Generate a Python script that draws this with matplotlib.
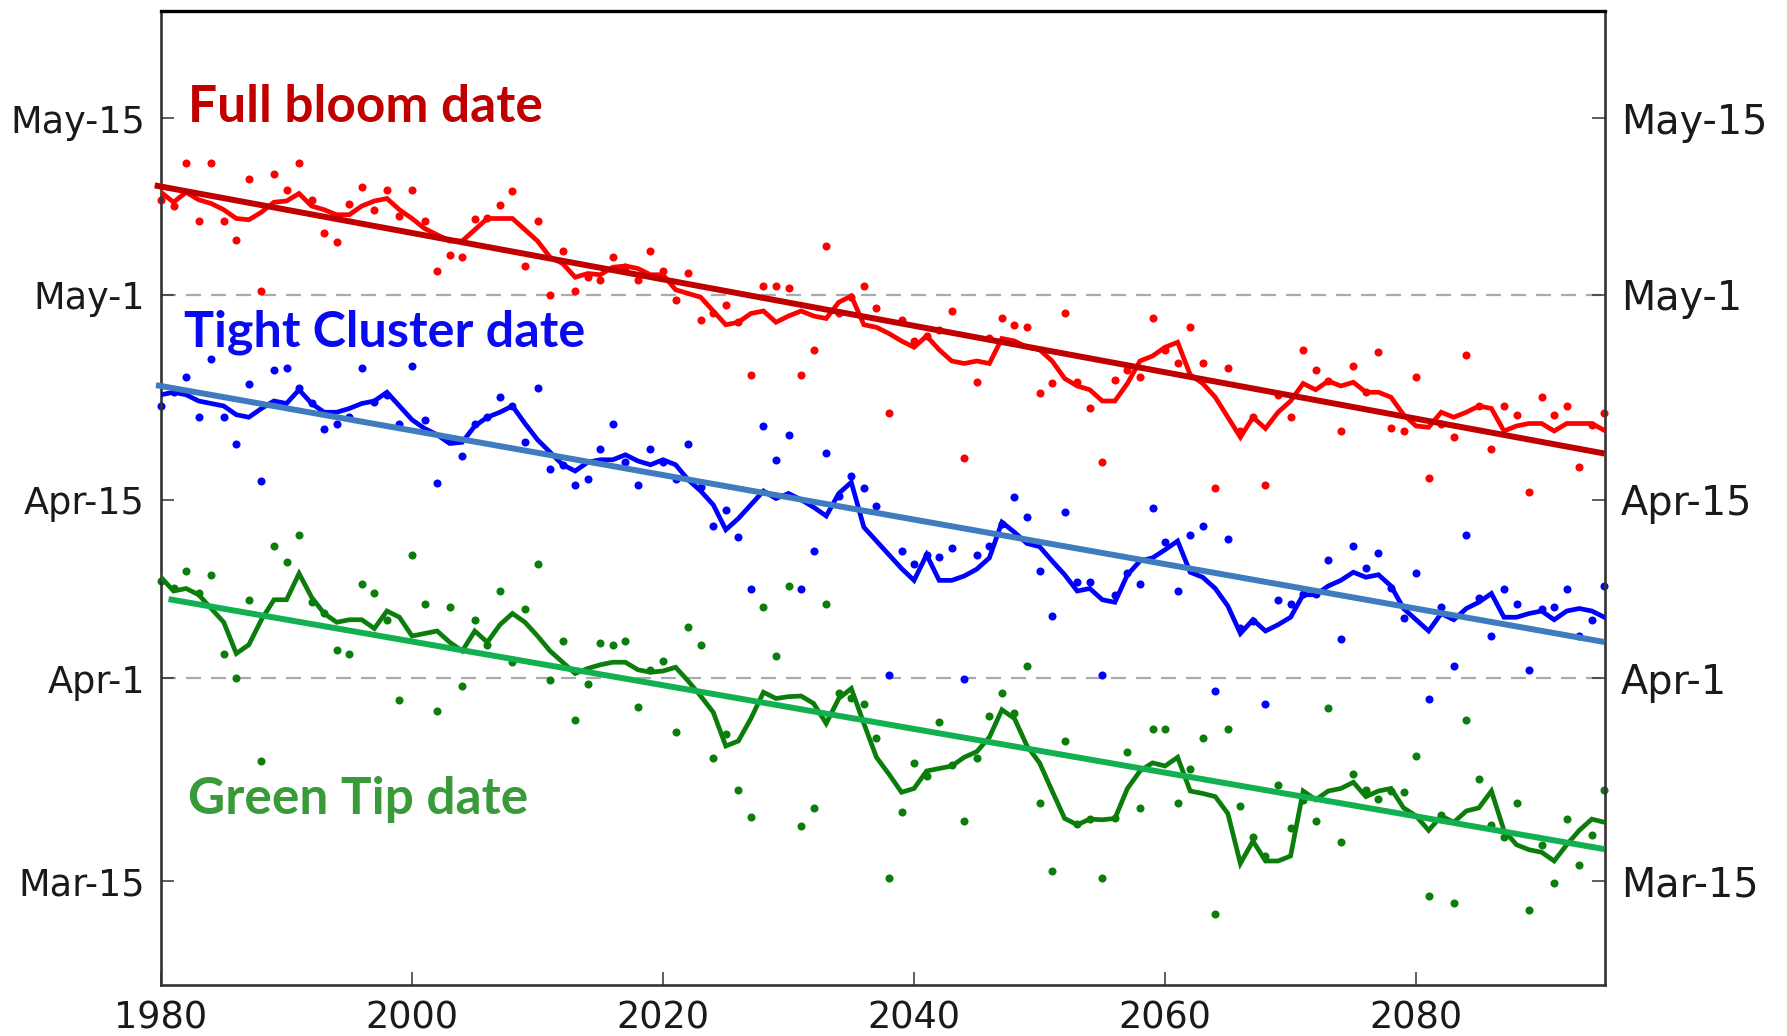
import matplotlib
matplotlib.use("Agg")
import matplotlib.pyplot as plt

# ---------------- data (day-of-year style scale) ----------------
years = list(range(1980, 2096))

full_bloom_dots = [
    128.5, 128.0, 131.45, 126.8, 131.45, 126.8, 125.3, 130.2, 121.2, 130.55,
    129.3, 131.45, 128.5, 125.8, 125.15, 128.2, 129.5, 127.7, 129.3, 127.2,
    129.3, 126.8, 122.8, 124.1, 123.9, 126.95, 127.0, 128.1, 129.2, 123.2,
    126.8, 120.84, 124.4, 121.2, 122.3, 122.1, 123.9, 123.1, 122.1, 124.4,
    122.8, 120.5, 122.6, 118.9, 119.4, 120.1, 118.7, 114.5, 121.6, 121.6,
    121.4, 114.5, 116.5, 124.8, 119.4, 120.7, 121.6, 119.8, 111.4, 118.9,
    117.2, 117.6, 118.05, 119.6, 107.85, 113.96, 117.4, 119.0, 118.5, 118.3,
    113.06, 113.8, 119.4, 113.96, 111.8, 107.5, 114.1, 114.9, 114.3, 119.04,
    116.5, 115.4, 118.3, 115.4, 105.47, 115.04, 110.0, 111.1, 105.65, 112.9,
    111.1, 116.5, 114.9, 114.0, 110.0, 115.2, 113.1, 116.3, 110.2, 110.0,
    114.3, 106.2, 110.6, 109.5, 116.1, 112.0, 108.57, 112.0, 111.3, 105.1,
    112.7, 111.3, 112.0, 107.1, 110.5, 111.45,
]
full_bloom_smooth = [
    129.1, 128.3, 129.1, 128.5, 128.2, 127.7, 127.0, 126.9, 127.5, 128.3,
    128.4, 129.0, 128.0, 127.7, 127.3, 127.3, 128.0, 128.4, 128.6, 127.7,
    127.0, 126.2, 125.7, 125.2, 125.2, 126.1, 127.0, 127.0, 127.0, 126.1,
    125.2, 123.9, 123.4, 122.3, 122.6, 122.5, 123.1, 123.2, 123.0, 122.5,
    122.5, 121.3, 121.0, 120.7, 119.6, 118.5, 118.7, 119.4, 119.6, 118.7,
    119.2, 119.6, 119.2, 119.0, 120.3, 120.8, 118.5, 118.3, 117.8, 117.2,
    116.7, 117.6, 116.5, 115.6, 115.4, 115.6, 115.4, 117.4, 117.2, 116.7,
    116.5, 115.6, 114.2, 113.6, 113.3, 112.4, 112.4, 113.8, 115.6, 116.0,
    116.7, 117.1, 114.5, 113.8, 112.7, 111.1, 109.5, 111.1, 110.2, 111.5,
    112.4, 113.8, 113.3, 114.0, 113.6, 113.9, 113.1, 113.1, 112.7, 111.3,
    110.4, 110.3, 111.5, 111.1, 111.5, 112.0, 111.8, 110.0, 110.4, 110.6,
    110.6, 110.0, 110.6, 110.6, 110.6, 110.05,
]
full_bloom_trend_years = [1979.5, 2095.0]
full_bloom_trend = [129.65, 108.2]

tight_cluster_dots = [
    112.0, 113.1, 114.32, 111.09, 115.76, 111.09, 108.93, 113.78, 106.01, 114.86,
    115.04, 113.42, 112.2, 110.19, 110.55, 111.09, 115.04, 112.35, 112.88, 110.55,
    115.22, 110.86, 105.83, 109.29, 108.03, 110.55, 111.09, 112.70, 111.99, 109.11,
    113.42, 106.95, 107.27, 105.65, 106.19, 108.57, 110.55, 107.49, 105.65, 108.57,
    107.5, 106.19, 108.93, 105.5, 102.41, 103.67, 101.51, 97.38, 110.37, 107.67,
    109.65, 97.38, 100.44, 108.21, 104.80, 106.37, 105.47, 104.03, 90.50, 100.44,
    99.36, 100.08, 99.90, 100.61, 90.14, 100.08, 100.80, 102.59, 104.75, 103.13,
    98.82, 95.22, 103.49, 97.92, 97.92, 90.50, 96.84, 98.64, 97.74, 103.85,
    101.15, 97.2, 101.7, 102.41, 89.24, 101.33, 94.2, 94.8, 88.17, 96.48,
    96.12, 96.93, 96.93, 99.72, 93.38, 100.8, 99.0, 100.26, 97.4, 95.04,
    98.64, 88.53, 95.94, 91.22, 101.7, 96.66, 93.56, 97.38, 96.12, 90.86,
    95.76, 95.94, 97.38, 93.56, 94.86, 97.56,
]
tight_cluster_smooth = [
    112.9, 113.1, 112.9, 112.4, 112.2, 112.0, 111.3, 111.1, 111.8, 112.4,
    112.2, 113.3, 112.2, 111.5, 111.5, 111.8, 112.2, 112.4, 113.1, 112.0,
    110.9, 110.2, 109.7, 109.0, 109.1, 110.4, 111.1, 111.5, 112.0, 110.6,
    109.3, 108.3, 107.3, 106.8, 107.5, 107.7, 107.7, 108.1, 107.6, 107.3,
    107.7, 107.3, 106.1, 105.2, 104.1, 102.1, 103.0, 104.1, 105.2, 104.6,
    105.0, 104.5, 103.9, 103.2, 105.0, 105.9, 102.3, 101.2, 100.1, 99.0,
    98.05, 100.1, 98.05, 98.05, 98.4, 98.95, 99.85, 102.7, 101.9, 101.0,
    100.75, 99.6, 98.5, 97.2, 97.4, 96.5, 96.3, 98.5, 99.6, 99.85,
    100.5, 101.2, 98.7, 98.3, 97.4, 96.0, 93.8, 94.9, 94.0, 94.5,
    95.1, 96.9, 96.9, 97.6, 98.05, 98.7, 98.3, 98.5, 97.6, 95.8,
    94.9, 94.0, 95.4, 94.9, 95.8, 96.3, 97.0, 95.1, 95.1, 95.4,
    95.6, 94.9, 95.6, 95.8, 95.6, 95.1,
]
tight_cluster_trend_years = [1979.6, 2095.0]
tight_cluster_trend = [113.67, 93.12]

green_tip_dots = [
    98.0, 97.4, 98.82, 97.0, 98.46, 92.12, 90.28, 96.48, 83.63, 100.80,
    99.54, 101.69, 96.3, 95.4, 92.48, 92.12, 97.74, 97.02, 94.86, 88.48,
    100.08, 96.12, 87.58, 95.94, 89.56, 94.86, 92.88, 97.2, 91.54, 95.76,
    99.36, 90.1, 93.24, 86.86, 89.74, 93.06, 92.88, 93.24, 87.94, 90.86,
    91.63, 85.96, 94.32, 92.88, 83.81, 85.78, 81.29, 79.13, 95.94, 91.99,
    97.56, 78.41, 79.85, 96.12, 89.02, 88.66, 88.12, 85.42, 74.28, 79.49,
    83.45, 82.37, 86.68, 83.27, 78.77, 83.81, 87.22, 89.02, 87.4, 91.18,
    80.21, 74.82, 85.24, 78.59, 78.95, 74.28, 79.04, 84.35, 79.85, 86.14,
    86.14, 80.21, 83.0, 85.42, 71.36, 86.14, 80.03, 77.5, 76.0, 81.65,
    78.23, 80.5, 78.77, 87.81, 77.15, 82.55, 81.29, 80.57, 81.2, 81.1,
    83.99, 72.79, 79.31, 72.26, 86.86, 82.19, 78.5, 77.5, 80.21, 71.72,
    76.9, 73.87, 78.95, 75.31, 77.69, 81.29,
]
green_tip_smooth = [
    98.3, 97.2, 97.4, 96.9, 95.8, 94.7, 92.2, 92.9, 94.9, 96.5,
    96.5, 98.6, 96.7, 95.4, 94.7, 94.9, 94.9, 94.2, 95.6, 95.1,
    93.6, 93.8, 94.0, 93.1, 92.4, 94.0, 93.1, 94.5, 95.4, 94.7,
    93.6, 92.4, 91.5, 90.6, 91.0, 91.3, 91.5, 91.5, 90.9, 90.7,
    90.8, 91.1, 90.0, 88.8, 87.5, 84.8, 85.2, 87.0, 89.1, 88.6,
    88.75, 88.8, 88.2, 86.6, 88.6, 89.4, 86.6, 83.9, 82.55, 81.1,
    81.4, 82.8, 83.0, 83.2, 83.9, 84.35, 85.5, 87.7, 87.0, 84.8,
    83.45, 81.2, 79.0, 78.5, 78.95, 78.9, 79.0, 81.4, 82.8, 83.45,
    83.2, 83.9, 81.2, 81.0, 80.75, 79.4, 75.4, 77.2, 75.6, 75.6,
    76.0, 81.2, 80.5, 81.2, 81.4, 81.9, 80.75, 81.2, 81.4, 79.85,
    79.2, 78.05, 79.2, 78.7, 79.6, 79.85, 81.2, 78.05, 76.9, 76.5,
    76.3, 75.6, 76.9, 78.05, 78.95, 78.7,
]
green_tip_trend_years = [1980.6, 2095.0]
green_tip_trend = [96.55, 76.55]

ytick_pos = [74, 90.2, 104.5, 120.9, 135]
ytick_labels = ["Mar-15", "Apr-1", "Apr-15", "May-1", "May-15"]
xtick_pos = [1980, 2000, 2020, 2040, 2060, 2080]
xtick_labels = ["1980", "2000", "2020", "2040", "2060", "2080"]
ref_lines = [120.9, 90.2]  # May-1, Apr-1

series_names = ["Full bloom date", "Tight Cluster date", "Green Tip date"]

# ---------------- figure ----------------
plt.rcParams['lines.scale_dashes'] = False
W, H = 1787, 1036
fig = plt.figure(figsize=(W / 100, H / 100), dpi=100)
ax = fig.add_axes([161 / W, 1 - 985 / H, 1444 / W, 974 / H])

for y in ref_lines:
    ax.axhline(y, color="#aaaaaa", lw=1.6, dashes=(10.8, 7.2), zorder=1)

specs = [
    (full_bloom_dots, full_bloom_smooth, full_bloom_trend_years, full_bloom_trend,
     "#ff0000", "#c00000"),
    (tight_cluster_dots, tight_cluster_smooth, tight_cluster_trend_years, tight_cluster_trend,
     "#0000ff", "#3e7bbf"),
    (green_tip_dots, green_tip_smooth, green_tip_trend_years, green_tip_trend,
     "#0b7d0b", "#12b050"),
]
for dots, smooth, ty, tv, c, tc in specs:
    ax.plot(years, dots, "o", ms=5.8, color=c, mec="none", zorder=2, clip_on=False)
    ax.plot(years, smooth, "-", lw=3.4, color=c, zorder=3, solid_joinstyle="miter")
    ax.plot(ty, tv, "-", lw=4.3, color=tc, zorder=4, clip_on=False,
            solid_capstyle="butt")

ax.set_xlim(1980, 2095.05)
ax.set_ylim(65.68, 143.6)
ax.set_xticks(xtick_pos)
ax.set_xticklabels(xtick_labels)
ax.set_yticks(ytick_pos)
ax.set_yticklabels(ytick_labels)

ax.tick_params(axis="both", direction="in", length=9.4, width=1.1,
               color="#333333", labelsize=26.4, labelcolor="#1a1a1a", pad=11.5)
ax.tick_params(axis="y", left=True, right=True, labelleft=True, labelright=True)
ax.tick_params(axis="x", top=False, pad=10.5)
for t in ax.yaxis.get_major_ticks():
    t.label2.set_fontsize(28.6)
for s in ["left", "right", "bottom"]:
    ax.spines[s].set_linewidth(1.9)
    ax.spines[s].set_color("#333333")
ax.spines["top"].set_linewidth(2.4)
ax.spines["top"].set_color("#000000")

txt_style = dict(transform=ax.transAxes, fontfamily="Lato", fontweight="bold",
                 va="baseline", ha="left", zorder=6)
ax.text(0.0184, 0.886, series_names[0], color="#c00000", fontsize=37, **txt_style)
ax.text(0.0156, 0.656, series_names[1], color="#0a0af0", fontsize=36.2, **txt_style)
ax.text(0.0187, 0.1756, series_names[2], color="#389a38", fontsize=37, **txt_style)

fig.savefig("out.png", dpi=100)
